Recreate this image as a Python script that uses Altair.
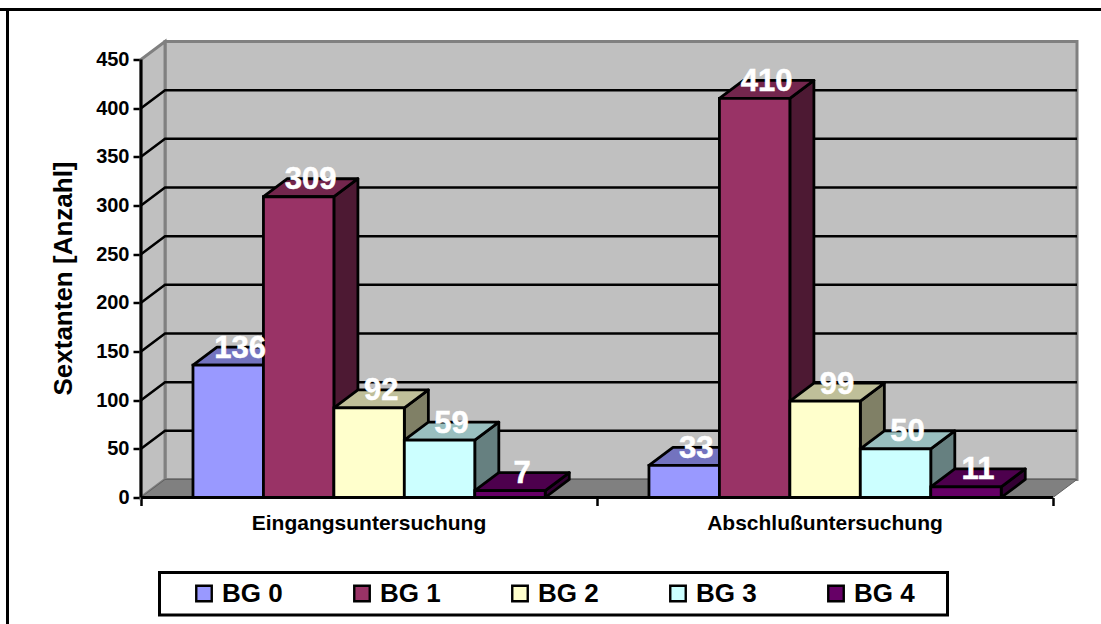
import altair as alt
import pandas as pd

categories = ["Eingangsuntersuchung", "Abschlußuntersuchung"]
series = ["BG 0", "BG 1", "BG 2", "BG 3", "BG 4"]
values = {
    "BG 0": [136, 33],
    "BG 1": [309, 410],
    "BG 2": [92, 99],
    "BG 3": [59, 50],
    "BG 4": [7, 11],
}
front_colors = ["#9999FF", "#993366", "#FFFFCC", "#CCFFFF", "#660066"]
top_colors = ["#7373BF", "#73264D", "#BFBF99", "#99BFBF", "#4D004D"]
side_colors = ["#4D4D80", "#4D1933", "#808066", "#668080", "#330033"]
y_ticks = [0, 50, 100, 150, 200, 250, 300, 350, 400, 450]
y_title = "Sextanten [Anzahl]"

# Geometry in axis units: one x unit is one category, y units are counts.
DEPTH_X = 0.0527
DEPTH_Y = 18.5
GROUP_GAP = 0.114
BAR_W = 0.1545
X_MAX = 2 + DEPTH_X
Y_MAX = 450 + DEPTH_Y

x_scale = alt.Scale(domain=[0, X_MAX], nice=False, zero=False)
y_scale = alt.Scale(domain=[0, Y_MAX], nice=False, zero=False)

fronts, tops, sides, labels = [], [], [], []
for c, cat in enumerate(categories):
    for s, name in enumerate(series):
        v = values[name][c]
        x0 = c + GROUP_GAP + s * BAR_W
        x1 = x0 + BAR_W
        key = f"{c}-{s}"
        fronts.append(dict(x0=x0, x1=x1, v=v, base=0, series=name))
        tops.append(dict(key=key, y=v, a=x0, b=x1, fill=top_colors[s]))
        tops.append(dict(key=key, y=v + DEPTH_Y, a=x0 + DEPTH_X, b=x1 + DEPTH_X, fill=top_colors[s]))
        sides.append(dict(key=key, x=x1, lo=0, hi=v, fill=side_colors[s]))
        sides.append(dict(key=key, x=x1 + DEPTH_X, lo=DEPTH_Y, hi=v + DEPTH_Y, fill=side_colors[s]))
        labels.append(dict(x=(x0 + x1 + DEPTH_X) / 2, y=v + DEPTH_Y, text=str(v)))

fronts, tops, sides, labels = map(pd.DataFrame, (fronts, tops, sides, labels))

X = lambda f: alt.X(f, type="quantitative", scale=x_scale, title=None)
Y = lambda f: alt.Y(f, type="quantitative", scale=y_scale, title=y_title)

# Back wall, side wall and floor of the chart box
wall_back = alt.Chart(pd.DataFrame({"a": [DEPTH_X], "b": [X_MAX], "lo": [DEPTH_Y], "hi": [Y_MAX]})).mark_rect(
    fill="#C0C0C0", stroke="#808080", strokeWidth=3
).encode(x=X("a"), x2="b", y=Y("lo"), y2="hi")
wall_side = alt.Chart(pd.DataFrame({"x": [0, DEPTH_X], "lo": [0, DEPTH_Y], "hi": [450, Y_MAX]})).mark_area(
    fill="#C0C0C0", stroke="#808080", strokeWidth=3
).encode(x=X("x"), y=Y("lo"), y2="hi")
floor = alt.Chart(pd.DataFrame({"y": [0, DEPTH_Y], "a": [0, DEPTH_X], "b": [2, X_MAX]})).mark_area(
    orient="horizontal", fill="#808080", stroke="#606060", strokeWidth=1
).encode(y=Y("y"), x=X("a"), x2="b")

# Gridlines run up the side wall and across the back wall
grid_rows = []
for t in y_ticks[1:-1]:
    grid_rows += [dict(t=t, x=0, y=t), dict(t=t, x=DEPTH_X, y=t + DEPTH_Y), dict(t=t, x=X_MAX, y=t + DEPTH_Y)]
grid = alt.Chart(pd.DataFrame(grid_rows)).mark_line(color="black", strokeWidth=2.5).encode(
    x=X("x"), y=Y("y"), detail="t:N", order="x:Q"
)

side_faces = alt.Chart(sides).mark_area(stroke="black", strokeWidth=2.8, strokeJoin="round").encode(
    x=X("x"), y=Y("lo"), y2="hi", detail="key:N", color=alt.Color("fill:N", scale=None)
)
top_faces = alt.Chart(tops).mark_area(orient="horizontal", stroke="black", strokeWidth=2.8, strokeJoin="round").encode(
    y=Y("y"), x=X("a"), x2="b", detail="key:N", color=alt.Color("fill:N", scale=None)
)
front_faces = alt.Chart(fronts).mark_rect(stroke="black", strokeWidth=2.8).encode(
    x=X("x0"),
    x2="x1",
    y=Y("base"),
    y2="v",
    fill=alt.Fill(
        "series:N",
        scale=alt.Scale(domain=series, range=front_colors),
        legend=alt.Legend(
            title=None,
            orient="none",
            legendX=50,
            legendY=539,
            direction="horizontal",
            columns=5,
            symbolType="square",
            symbolSize=240,
            symbolStrokeColor="black",
            symbolStrokeWidth=2.4,
            labelFont="Liberation Sans",
            labelFontWeight="bold",
            labelFontSize=26,
            labelColor="black",
            labelOffset=5,
            columnPadding=66,
            padding=0,
        ),
    ),
)

value_labels = alt.Chart(labels).mark_text(
    font="Liberation Sans", fontWeight="bold", fontSize=31, color="white", stroke="white", strokeWidth=0.5,
    baseline="middle", align="center", dy=1.5
).encode(x=X("x"), y=Y("y"), text="text:N")

axes = alt.Chart(pd.DataFrame({"x": [0, 1, 2], "y": [0, 0, 0]})).mark_point(opacity=0).encode(
    x=alt.X("x:Q", scale=x_scale, title=None,
            axis=alt.Axis(values=[0, 1, 2], labels=False, grid=False, tickColor="black", tickWidth=2.5,
                          tickSize=8, domain=False)),
    y=alt.Y("y:Q", scale=y_scale, title=y_title,
            axis=alt.Axis(values=y_ticks, grid=False, titleFont="Liberation Sans",
                          titleFontWeight="bold", titleFontSize=26, titleColor="black", titlePadding=19,
                          titleY=236.5,
                          labelFont="Liberation Sans", labelFontWeight="bold", labelFontSize=20,
                          labelColor="black", labelPadding=4, tickColor="black", tickWidth=2.5, tickSize=8,
                          domain=False)),
)

# Front edge of the chart box
edge_left = alt.Chart(pd.DataFrame({"x": [0], "a": [0], "b": [450]})).mark_rule(color="black", strokeWidth=3).encode(
    x=X("x"), y=Y("a"), y2="b")
edge_base = alt.Chart(pd.DataFrame({"a": [0], "b": [2], "y": [0]})).mark_rule(color="black", strokeWidth=3).encode(
    x=X("a"), x2="b", y=Y("y"))

category_labels = alt.Chart(pd.DataFrame({"x": [0.5, 1.5], "text": categories})).mark_text(
    font="Liberation Sans", fontWeight="bold", fontSize=21, color="black", baseline="middle"
).encode(x=X("x"), y=alt.value(482), text="text:N")

# Outer frame, open on the right and at the bottom, and the box behind the legend
base = alt.Chart(pd.DataFrame({"k": [0]}))
frame_top = base.mark_rule(color="black", strokeWidth=3).encode(x=alt.value(-141), x2=alt.value(960), y=alt.value(-32))
frame_left = base.mark_rule(color="black", strokeWidth=3).encode(x=alt.value(-133.5), y=alt.value(-33), y2=alt.value(583))
legend_box = base.mark_rect(fill="white", stroke="black", strokeWidth=3).encode(
    x=alt.value(18.5), x2=alt.value(806.5), y=alt.value(531), y2=alt.value(573.5)
)

chart = alt.layer(
    frame_top, frame_left, legend_box, wall_back, wall_side, floor, grid, side_faces, top_faces, front_faces,
    axes, edge_left, edge_base, value_labels, category_labels,
).resolve_scale(color="independent", fill="independent").properties(
    width=936,
    height=456,
    padding={"left": 141, "top": 41.5, "right": 24, "bottom": 126.5},
    autosize=alt.AutoSizeParams(type="none"),
    background="white",
).configure_view(stroke=None)

chart.save("out.html", embed_options={"renderer": "svg", "actions": False})
